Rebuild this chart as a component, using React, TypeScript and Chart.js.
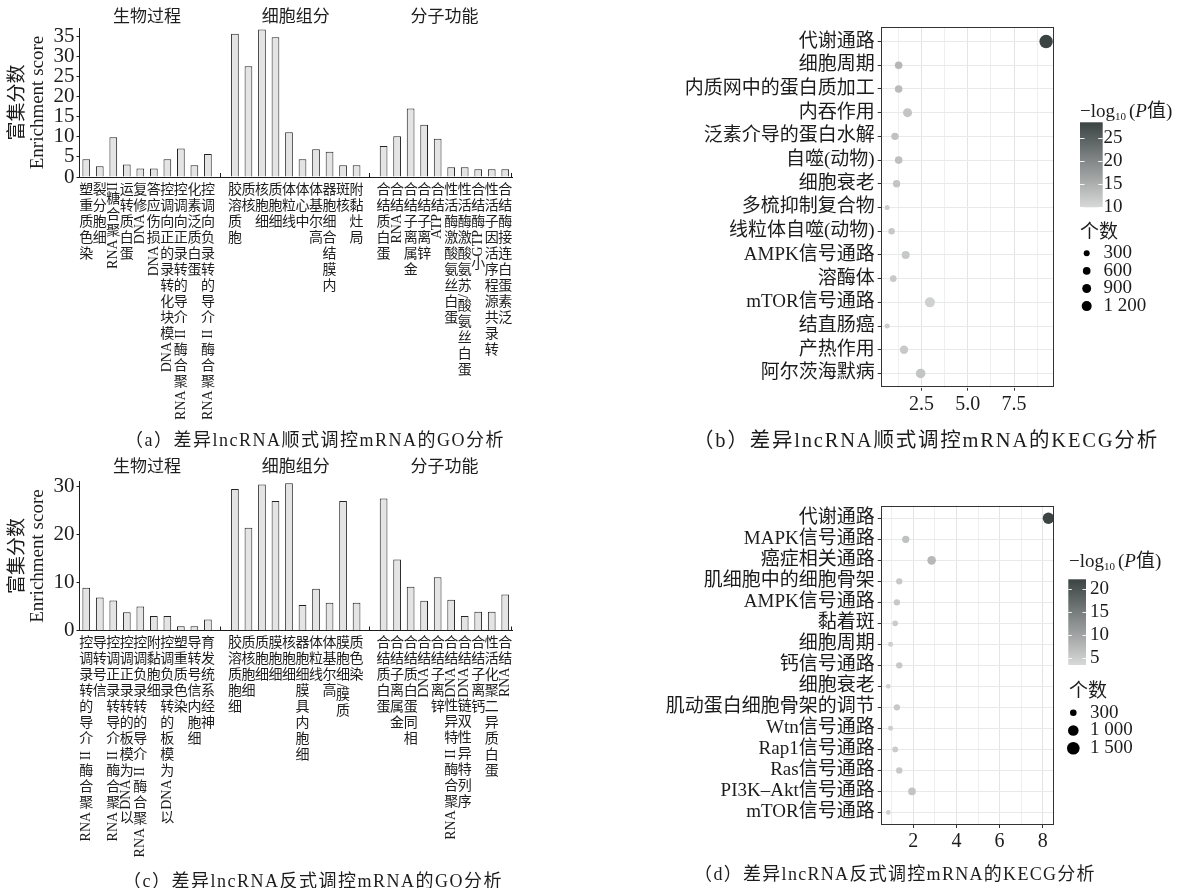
import { useEffect, useRef } from 'react';
import { Chart, registerables } from 'chart.js';

Chart.register(...registerables);

const SERIF = "'Liberation Serif', 'Noto Sans CJK SC', serif";
const INK = '#1c1c1c';

// ---------- GO enrichment: cis-regulated mRNA ----------
const goGroupNames = ['生物过程', '细胞组分', '分子功能'];

const goCisBpTerms = ['染色质重塑', '细胞分裂', 'RNA聚合糖II', '蛋白质转运', 'DNA修复', 'DNA损伤应答', 'DNA模块化转录的正向调控', 'RNA聚合酶 II 介导的转录正向调控', '蛋白质泛素化', 'RNA聚合酶 II 介导的转录负向调控'];
const goCisBpScores = [4.4, 2.7, 9.9, 3.1, 2.1, 2.1, 4.4, 7.1, 2.9, 5.7];
const goCisCcTerms = ['胞质溶胶', '核质', '细胞核', '细胞质', '线粒体', '中心体', '高尔基体', '内膜结合细胞器', '核斑', '局灶黏附'];
const goCisCcScores = [35.6, 27.5, 36.6, 34.7, 11.1, 4.4, 6.9, 6.3, 2.9, 2.9];
const goCisMfTerms = ['蛋白质结合', 'RNA结合', '金属离子结合', '锌离子结合', 'ATP结合', '蛋白丝氨酸激酶活性', '蛋白丝氨酸/苏氨酸激酶活性', '小GTP酶结合', '转录共源程序活因子活性', '泛素蛋白连接酶结合'];
const goCisMfScores = [7.7, 10.1, 17.0, 13.0, 9.5, 2.4, 2.4, 1.9, 1.9, 1.9];
const goCisYTicks = [0, 5, 10, 15, 20, 25, 30, 35];

// ---------- GO enrichment: trans-regulated mRNA ----------
const goTransBpTerms = ['RNA聚合酶 II 介导的转录调控', '信号转导', 'RNA聚合酶 II 介导转录正调控', '以DNA为模板的转录正调控', 'RNA聚合酶 II 介导的转录负调控', '细胞黏附', '以DNA为模板的转录负调控', '染色质重塑', '细胞内信号转导', '神经系统发育'];
const goTransBpScores = [8.9, 6.9, 6.25, 3.8, 5.0, 3.0, 3.0, 0.87, 0.87, 2.3];
const goTransCcTerms = ['细胞质溶胶', '细胞核质', '细胞质', '细胞膜', '细胞核', '细胞内具膜细胞器', '线粒体', '高尔基体', '质膜/细胞膜', '染色质'];
const goTransCcScores = [29.5, 21.4, 30.4, 27.0, 30.7, 5.3, 8.7, 5.8, 27.0, 5.8];
const goTransMfTerms = ['蛋白质结合', '金属离子结合', '相同蛋白质结合', 'DNA结合', '锌离子结合', 'RNA聚合酶 II 特异性DNA结合', '序列特异性双链DNA结合', '钙离子结合', '蛋白质异二聚化活性', 'RNA结合'];
const goTransMfScores = [27.5, 14.8, 9.1, 6.2, 11.1, 6.4, 3.0, 3.9, 3.9, 7.5];
const goTransYTicks = [0, 10, 20, 30];

// ---------- KEGG enrichment: cis-regulated mRNA ----------
const keggCisPathways = ['代谢通路', '细胞周期', '内质网中的蛋白质加工', '内吞作用', '泛素介导的蛋白水解', '自噬(动物)', '细胞衰老', '多梳抑制复合物', '线粒体自噬(动物)', 'AMPK信号通路', '溶酶体', 'mTOR信号通路', '结直肠癌', '产热作用', '阿尔茨海默病'];
const keggCisScore = [9.23, 1.26, 1.26, 1.74, 1.06, 1.26, 1.15, 0.64, 0.88, 1.64, 0.97, 2.95, 0.64, 1.55, 2.45];
const keggCisCounts = [2440, 590, 590, 920, 550, 590, 550, 170, 360, 680, 400, 1200, 170, 770, 1080];
const keggCisLogP = [28.4, 14, 13.5, 12.5, 12.8, 13, 12.5, 11.5, 12, 12, 11.8, 11, 11.5, 11.8, 12.5];
const keggCisXTicks = [2.5, 5, 7.5];
const keggCisColorBreaks = [10, 15, 20, 25];
const keggCisSizeBreaks = [300, 600, 900, 1200];

// ---------- KEGG enrichment: trans-regulated mRNA ----------
const keggTransPathways = ['代谢通路', 'MAPK信号通路', '癌症相关通路', '肌细胞中的细胞骨架', 'AMPK信号通路', '黏着斑', '细胞周期', '钙信号通路', '细胞衰老', '肌动蛋白细胞骨架的调节', 'Wtn信号通路', 'Rap1信号通路', 'Ras信号通路', 'PI3K–Akt信号通路', 'mTOR信号通路'];
const keggTransScore = [8.26, 1.65, 2.85, 1.35, 1.24, 1.16, 0.95, 1.35, 0.84, 1.24, 0.95, 1.16, 1.35, 1.94, 0.84];
const keggTransCounts = [1180, 400, 610, 270, 270, 200, 135, 270, 110, 270, 135, 200, 270, 450, 110];
const keggTransLogP = [22.1, 6.5, 7.5, 5.5, 5.5, 5.2, 4.8, 5.5, 4.6, 5.5, 4.8, 5.2, 5.5, 6.0, 4.6];
const keggTransXTicks = [2, 4, 6, 8];
const keggTransColorBreaks = [5, 10, 15, 20];
const keggTransSizeBreaks = [300, 1000, 1500];

const captions = [
  { text: '（a）差异lncRNA顺式调控mRNA的GO分析', x: 315, y: 438, size: 18, spacing: 1.5 },
  { text: '（b）差异lncRNA顺式调控mRNA的KECG分析', x: 926, y: 438, size: 20.5, spacing: 1.8 },
  { text: '（c）差异lncRNA反式调控mRNA的GO分析', x: 313, y: 879, size: 18, spacing: 1.5 },
  { text: '（d）差异lncRNA反式调控mRNA的KECG分析', x: 895, y: 872, size: 18, spacing: 1.3 },
];

// ---------- helpers ----------
type Group = { terms: string[]; scores: number[] };

function joinGroups(groups: Group[]) {
  const labels: string[] = [];
  const values: (number | null)[] = [];
  const spans: [number, number][] = [];
  groups.forEach((g, gi) => {
    if (gi > 0) {
      labels.push('');
      values.push(null);
    }
    const start = labels.length;
    labels.push(...g.terms);
    values.push(...g.scores);
    spans.push([start, labels.length - 1]);
  });
  return { labels, values, spans };
}

const isUpright = (ch: string) => /[\u2e80-\u9fff\u3000-\u303f\uff00-\uffef]/.test(ch);

function splitRuns(label: string) {
  const runs: { text: string; upright: boolean }[] = [];
  for (const ch of label) {
    if (isUpright(ch)) runs.push({ text: ch, upright: true });
    else {
      const last = runs[runs.length - 1];
      if (last && !last.upright) last.text += ch;
      else runs.push({ text: ch, upright: false });
    }
  }
  return runs;
}

const LABEL_SIZE = 14;
const LABEL_STEP = 16;

// facet titles, facet joints and stacked category labels under the bars
function goTextPlugin(spans: [number, number][], titleY: number) {
  return {
    id: 'goText',
    afterDraw(chart: any) {
      const { ctx, chartArea } = chart;
      const xs = chart.scales.x;
      const labels = chart.data.labels as string[];
      ctx.save();
      ctx.fillStyle = INK;
      ctx.strokeStyle = INK;
      ctx.lineWidth = 1;

      ctx.font = `17px ${SERIF}`;
      ctx.textAlign = 'center';
      ctx.textBaseline = 'middle';
      spans.forEach(([a, b], i) => {
        const cx = (xs.getPixelForValue(a) + xs.getPixelForValue(b)) / 2;
        ctx.fillText(goGroupNames[i], cx, titleY);
      });

      const joints: number[] = [];
      labels.forEach((l, i) => {
        if (l === '') joints.push(xs.getPixelForValue(i));
      });
      joints.push(chartArea.right);
      joints.forEach((m) => {
        const px = Math.round(m) - 0.5;
        ctx.beginPath();
        ctx.moveTo(px, chartArea.bottom);
        ctx.lineTo(px, chartArea.bottom - 4);
        ctx.stroke();
      });

      ctx.font = `${LABEL_SIZE}px ${SERIF}`;
      labels.forEach((lab, i) => {
        if (!lab) return;
        const x = xs.getPixelForValue(i);
        let y = chartArea.bottom + 5;
        const runs = splitRuns(lab).reverse();
        for (const r of runs) {
          if (r.upright) {
            ctx.textAlign = 'center';
            ctx.textBaseline = 'top';
            ctx.fillText(r.text, x, y + (LABEL_STEP - LABEL_SIZE) / 2);
            y += LABEL_STEP;
          } else {
            const w = ctx.measureText(r.text).width;
            ctx.save();
            ctx.translate(x, y + w);
            ctx.rotate(-Math.PI / 2);
            ctx.textAlign = 'left';
            ctx.textBaseline = 'middle';
            ctx.fillText(r.text, 0, 0);
            ctx.restore();
            y += w;
          }
        }
      });
      ctx.restore();
    },
  };
}

function goConfig(groups: Group[], yTicks: number[], yMax: number, top: number, bottom: number, height: number, titleY: number) {
  const { labels, values, spans } = joinGroups(groups);
  return {
    type: 'bar',
    data: {
      labels,
      datasets: [
        {
          data: values,
          backgroundColor: '#e4e4e4',
          borderColor: '#222',
          borderWidth: 1,
          barPercentage: 0.6,
          categoryPercentage: 0.95,
        },
      ],
    },
    options: {
      responsive: false,
      animation: false,
      layout: { padding: { top, right: 88, left: 0, bottom: 0 } },
      plugins: { legend: { display: false }, tooltip: { enabled: false } },
      scales: {
        x: {
          grid: { display: false },
          ticks: { display: false },
          border: { color: INK, width: 1 },
          afterFit: (s: any) => {
            s.height = height - bottom;
          },
        },
        y: {
          min: 0,
          max: yMax,
          afterBuildTicks: (s: any) => {
            s.ticks = yTicks.map((v) => ({ value: v }));
          },
          ticks: { autoSkip: false, color: INK, padding: 2, font: { family: SERIF, size: 21 } },
          grid: { drawOnChartArea: false, tickLength: 3, tickColor: INK },
          border: { color: INK, width: 1 },
          title: {
            display: true,
            text: ['富集分数', 'Enrichment score'],
            color: INK,
            font: { family: SERIF, size: 19, lineHeight: 1.05 },
            padding: { top: 8, bottom: 0 },
          },
          afterFit: (s: any) => {
            s.width = 79.5;
          },
        },
      },
    },
    plugins: [goTextPlugin(spans, titleY)],
  };
}

const LOW = [216, 216, 216];
const HIGH = [59, 67, 67];
function shade(v: number, lo: number, hi: number) {
  const t = Math.max(0, Math.min(1, (v - lo) / (hi - lo)));
  const c = LOW.map((l, i) => Math.round(l + (HIGH[i] - l) * t));
  return `rgb(${c[0]},${c[1]},${c[2]})`;
}

type LegendSpec = {
  lo: number;
  hi: number;
  colorBreaks: number[];
  sizeBreaks: number[];
  radius: (c: number) => number;
  titleX: number;
  titleY: number;
  barX: number;
  barY: number;
  barW: number;
  barH: number;
  labelX: number;
  sizeTitleY: number;
  dotX: number;
  dotY0: number;
  dotStep: number;
};

const fmtCount = (n: number) => (n >= 1000 ? `${Math.floor(n / 1000)} ${String(n % 1000).padStart(3, '0')}` : String(n));

// panel border plus colour bar and size key
function keggPlugin(spec: LegendSpec) {
  return {
    id: 'keggDecor',
    afterDraw(chart: any) {
      const { ctx, chartArea } = chart;
      ctx.save();
      ctx.strokeStyle = '#333';
      ctx.lineWidth = 1;
      ctx.strokeRect(
        Math.round(chartArea.left) + 0.5,
        Math.round(chartArea.top) + 0.5,
        Math.round(chartArea.right - chartArea.left) - 1,
        Math.round(chartArea.bottom - chartArea.top) - 1
      );

      ctx.fillStyle = INK;
      ctx.textBaseline = 'middle';
      ctx.textAlign = 'left';
      let x = spec.titleX;
      const y = spec.titleY;
      const put = (t: string, font: string, dy = 0) => {
        ctx.font = font;
        ctx.fillText(t, x, y + dy);
        x += ctx.measureText(t).width;
      };
      put('−log', `19px ${SERIF}`);
      put('10', `11px ${SERIF}`, 5);
      x += 3;
      put('(', `19px ${SERIF}`);
      put('P', `italic 19px ${SERIF}`);
      put('值)', `19px ${SERIF}`);

      const g = ctx.createLinearGradient(0, spec.barY + spec.barH, 0, spec.barY);
      for (let k = 0; k <= 10; k++) {
        const v = spec.lo + ((spec.hi - spec.lo) * k) / 10;
        g.addColorStop(k / 10, shade(v, spec.lo, spec.hi));
      }
      ctx.fillStyle = g;
      ctx.fillRect(spec.barX, spec.barY, spec.barW, spec.barH);
      const vy = (v: number) => spec.barY + spec.barH - ((v - spec.lo) / (spec.hi - spec.lo)) * spec.barH;
      ctx.strokeStyle = 'rgba(255,255,255,0.9)';
      ctx.font = `19px ${SERIF}`;
      spec.colorBreaks.forEach((v) => {
        const yy = Math.round(vy(v)) + 0.5;
        ctx.beginPath();
        ctx.moveTo(spec.barX, yy);
        ctx.lineTo(spec.barX + spec.barW / 5, yy);
        ctx.moveTo(spec.barX + spec.barW, yy);
        ctx.lineTo(spec.barX + (spec.barW * 4) / 5, yy);
        ctx.stroke();
        ctx.fillStyle = INK;
        ctx.fillText(String(v), spec.labelX, vy(v));
      });

      ctx.fillStyle = INK;
      ctx.font = `19px ${SERIF}`;
      ctx.fillText('个数', spec.titleX, spec.sizeTitleY);
      spec.sizeBreaks.forEach((c, i) => {
        const yy = spec.dotY0 + i * spec.dotStep;
        ctx.beginPath();
        ctx.arc(spec.dotX, yy, spec.radius(c), 0, Math.PI * 2);
        ctx.fillStyle = '#000';
        ctx.fill();
        ctx.fillStyle = INK;
        ctx.fillText(fmtCount(c), spec.labelX, yy);
      });
      ctx.restore();
    },
  };
}

function keggConfig(
  names: string[],
  score: number[],
  counts: number[],
  logP: number[],
  xTicks: number[],
  xMin: number,
  xMax: number,
  top: number,
  right: number,
  height: number,
  bottom: number,
  spec: LegendSpec,
  decimals: number
) {
  const step = xTicks[1] - xTicks[0];
  const gridVals: number[] = [];
  for (let v = xTicks[0] - step / 2; v < xMax; v += step / 2) if (v > xMin) gridVals.push(v);
  const isMajor = (v: number) => xTicks.some((t) => Math.abs(t - v) < 1e-6);
  const n = names.length;
  return {
    type: 'bubble',
    data: {
      datasets: [
        {
          data: names.map((_, i) => ({ x: score[i], y: i, r: spec.radius(counts[i]) })),
          backgroundColor: logP.map((v) => shade(v, spec.lo, spec.hi)),
          borderWidth: 0,
        },
      ],
    },
    options: {
      responsive: false,
      animation: false,
      layout: { padding: { top, right, left: 0, bottom: 0 } },
      plugins: { legend: { display: false }, tooltip: { enabled: false } },
      scales: {
        x: {
          type: 'linear',
          min: xMin,
          max: xMax,
          afterBuildTicks: (s: any) => {
            s.ticks = gridVals.map((v) => ({ value: v }));
          },
          ticks: {
            autoSkip: false,
            maxRotation: 0,
            color: INK,
            padding: 2,
            font: { family: SERIF, size: 20 },
            callback: (v: number) => (isMajor(v) ? v.toFixed(decimals) : ''),
          },
          grid: {
            color: (c: any) => (c.tick && isMajor(c.tick.value) ? '#e4e4e4' : '#efefef'),
            tickLength: 3,
            tickColor: (c: any) => (c.tick && isMajor(c.tick.value) ? '#333' : 'rgba(0,0,0,0)'),
          },
          border: { display: false },
          afterFit: (s: any) => {
            s.height = height - bottom;
          },
        },
        y: {
          type: 'linear',
          reverse: true,
          min: -0.6,
          max: n - 1 + 0.6,
          afterBuildTicks: (s: any) => {
            s.ticks = names.map((_, i) => ({ value: i }));
          },
          ticks: {
            autoSkip: false,
            color: INK,
            padding: 3,
            font: { family: SERIF, size: 19 },
            callback: (v: number) => names[v],
          },
          grid: { color: '#e9e9e9', tickLength: 3, tickColor: '#333' },
          border: { display: false },
          afterFit: (s: any) => {
            s.width = 240.7;
          },
        },
      },
    },
    plugins: [keggPlugin(spec)],
  };
}

const radiusCis = (c: number) => 1 + 0.1155 * Math.sqrt(c);
const radiusTrans = (c: number) => 0.87 + 0.14 * Math.sqrt(c);

function ChartCanvas({ make, left, top, width, height }: { make: () => any; left: number; top: number; width: number; height: number }) {
  const ref = useRef<HTMLCanvasElement>(null);
  useEffect(() => {
    const chart = new Chart(ref.current as HTMLCanvasElement, make());
    return () => chart.destroy();
  }, []);
  return (
    <canvas
      ref={ref}
      width={width}
      height={height}
      style={{ position: 'absolute', left, top, width, height }}
    />
  );
}

export default function App() {
  return (
    <div style={{ position: 'absolute', left: 0, top: 0, width: 1178, height: 888, background: '#fff', overflow: 'hidden' }}>
      <ChartCanvas
        left={0}
        top={0}
        width={600}
        height={430}
        make={() =>
          goConfig(
            [
              { terms: goCisBpTerms, scores: goCisBpScores },
              { terms: goCisCcTerms, scores: goCisCcScores },
              { terms: goCisMfTerms, scores: goCisMfScores },
            ],
            goCisYTicks,
            37,
            28,
            177,
            430,
            18
          )
        }
      />
      <ChartCanvas
        left={0}
        top={440}
        width={600}
        height={440}
        make={() =>
          goConfig(
            [
              { terms: goTransBpTerms, scores: goTransBpScores },
              { terms: goTransCcTerms, scores: goTransCcScores },
              { terms: goTransMfTerms, scores: goTransMfScores },
            ],
            goTransYTicks,
            31,
            41.7,
            190.5,
            440,
            28
          )
        }
      />
      <ChartCanvas
        left={640}
        top={0}
        width={538}
        height={430}
        make={() =>
          keggConfig(keggCisPathways, keggCisScore, keggCisCounts, keggCisLogP, keggCisXTicks, 0.29, 9.62, 27.3, 124.7, 430, 387.7, {
            lo: 10,
            hi: 28.4,
            colorBreaks: keggCisColorBreaks,
            sizeBreaks: keggCisSizeBreaks,
            radius: radiusCis,
            titleX: 440,
            titleY: 111.7,
            barX: 440,
            barY: 122.3,
            barW: 22.7,
            barH: 85,
            labelX: 463.5,
            sizeTitleY: 233.3,
            dotX: 446.7,
            dotY0: 253.3,
            dotStep: 17.6,
          }, 1)
        }
      />
      <ChartCanvas
        left={640}
        top={450}
        width={538}
        height={420}
        make={() =>
          keggConfig(keggTransPathways, keggTransScore, keggTransCounts, keggTransLogP, keggTransXTicks, 0.49, 8.52, 55.7, 124, 420, 375, {
            lo: 3.55,
            hi: 22.1,
            colorBreaks: keggTransColorBreaks,
            sizeBreaks: keggTransSizeBreaks,
            radius: radiusTrans,
            titleX: 429,
            titleY: 111.7,
            barX: 428.3,
            barY: 129.3,
            barW: 17.7,
            barH: 85.7,
            labelX: 450,
            sizeTitleY: 241.7,
            dotX: 433.3,
            dotY0: 262.7,
            dotStep: 17.8,
          }, 0)
        }
      />
      {captions.map((c) => (
        <div
          key={c.text}
          style={{
            position: 'absolute',
            left: c.x,
            top: c.y,
            transform: 'translate(-50%, -50%)',
            whiteSpace: 'nowrap',
            font: `${c.size}px ${SERIF}`,
            letterSpacing: `${c.spacing}px`,
            color: INK,
          }}
        >
          {c.text}
        </div>
      ))}
    </div>
  );
}
